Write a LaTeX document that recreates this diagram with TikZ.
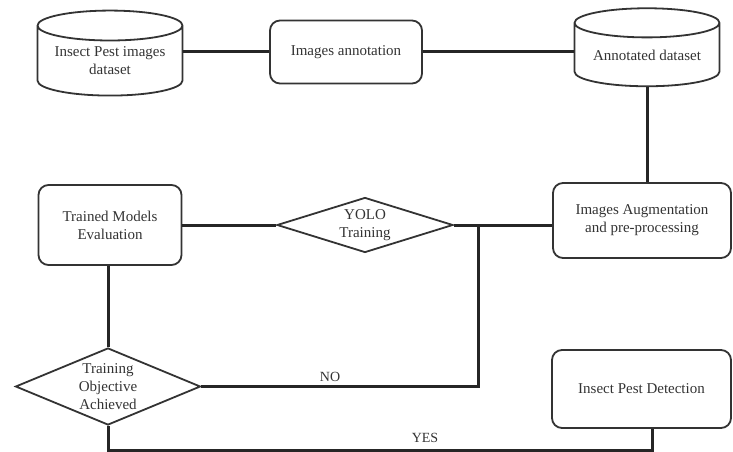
\documentclass[tikz,border=0pt]{standalone}
\usepackage{fontspec}
\setmainfont{Liberation Serif}
\usetikzlibrary{shapes.geometric}
\begin{document}
\begin{tikzpicture}[x=1pt,y=1pt,
  every node/.style={font=\fontsize{15}{18}\selectfont, text=black!80},
  box/.style={draw=black!80, line width=1.8pt, rounded corners=10pt, align=center, inner sep=0pt},
  dbase/.style={draw=black!80, line width=1.8pt, cylinder, shape border rotate=90, aspect=0.27, align=center, inner sep=0pt},
  decision/.style={draw=black!80, line width=1.8pt, diamond, inner sep=0pt},
  link/.style={draw=black!85, line width=3pt},
  lbl/.style={font=\fontsize{14}{16}\selectfont}]
\useasboundingbox (0,0) rectangle (733,-452);
\node[dbase, minimum width=145, minimum height=85] (db1) at (110,-61) {Insect Pest images\\dataset};
\node[box, minimum width=152, minimum height=63] (ann) at (346,-52) {Images annotation};
\node[dbase, minimum width=145, minimum height=78] (db2) at (647,-55) {Annotated dataset};
\node[box, minimum width=178, minimum height=75] (aug) at (642,-220.5) {Images Augmentation\\and pre-processing};
\node[decision, minimum width=176, minimum height=55,
  label={[align=center, font=\fontsize{15}{18}\selectfont, text=black!80]center:YOLO\\Training}] (yolo) at (365,-225) {};
\node[box, minimum width=143, minimum height=80] (eval) at (110,-225) {Trained Models\\Evaluation};
\node[decision, minimum width=185, minimum height=77,
  label={[align=center, font=\fontsize{15}{18}\selectfont, text=black!80]center:Training\\Objective\\Achieved}] (obj) at (108,-386.5) {};
\node[box, minimum width=179, minimum height=78] (det) at (641.5,-389) {Insect Pest Detection};
\coordinate (j) at (478,-225);
\coordinate (b1) at (108,-450);
\coordinate (b2) at (652,-450);
\draw[link] (ann.west -| db1.east) -- (ann.west);
\draw[link] (ann.east) -- (ann.east -| db2.west);
\draw[link] (db2.south) -- (db2.south |- aug.north);
\draw[link] (yolo.east) -- (yolo.east -| aug.west);
\draw[link] (yolo.west) -- (eval.east |- yolo.west);
\draw[link] (eval.south -| obj.north) -- (obj.north);
\draw[link] (j) -- (j |- obj.east) -- (obj.east);
\draw[link] (obj.south) -- (b1) -- (b2) -- (b2 |- det.south);
\node[lbl] (no) at (330,-377) {NO};
\node[lbl] (yes) at (425,-438) {YES};
\end{tikzpicture}
\end{document}
